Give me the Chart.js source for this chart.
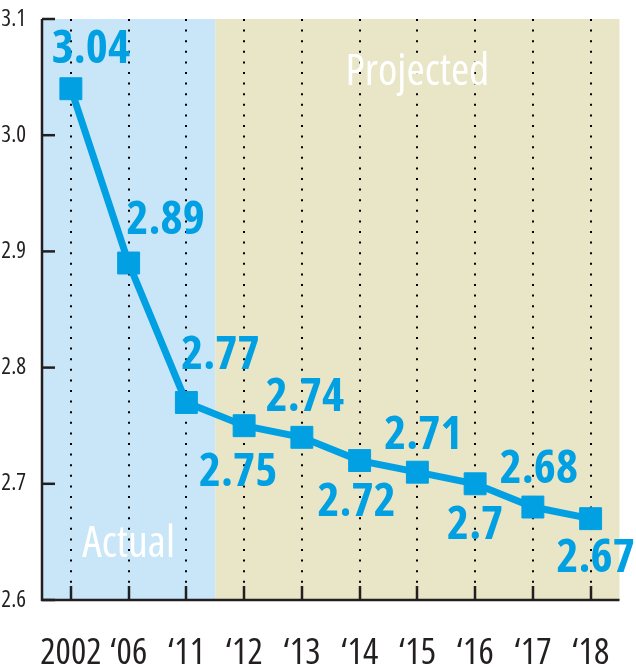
<!DOCTYPE html>
<html><head><meta charset="utf-8">
<script src="https://cdn.jsdelivr.net/npm/chart.js@4/dist/chart.umd.min.js"></script>
<style>html,body{margin:0;padding:0;background:#fff}#wrap{width:636px;height:667px}</style>
</head><body><div id="wrap"><canvas id="c" width="636" height="667"></canvas></div>
<script>
// ---- data ----
const categories = ['2002', '\u201806', '\u201811', '\u201812', '\u201813', '\u201814', '\u201815', '\u201816', '\u201817', '\u201818'];
const values = [3.04, 2.89, 2.77, 2.75, 2.74, 2.72, 2.71, 2.70, 2.68, 2.67];
const valueLabels = ['3.04', '2.89', '2.77', '2.75', '2.74', '2.72', '2.71', '2.7', '2.68', '2.67'];
const yTicks = [2.6, 2.7, 2.8, 2.9, 3.0, 3.1];
const actualCount = 3;
const periodLabels = ['Actual', 'Projected'];

// ---- styles ----
const BLUE = '#00a0e3';
const BG_ACTUAL = '#c8e6f8';
const BG_PROJ = '#e8e6c6';
const INK = '#231f20';
const FAMILY = "'Open Sans', 'DejaVu Sans Condensed', sans-serif";
// text centre offsets from each point (px)
const labelOffsets = [[20,-42],[37,-46],[34,-50],[-6,44],[3,-43],[-3,39],[6,-40],[0,38],[6,-41],[5,37]];

const decor = {
  id: 'decor',
  beforeDatasetsDraw(chart) {
    const {ctx, chartArea: a, scales: {x, y}} = chart;
    ctx.save();
    const split = (x.getPixelForValue(actualCount - 1) + x.getPixelForValue(actualCount)) / 2;
    ctx.fillStyle = BG_ACTUAL;
    ctx.fillRect(a.left, a.top, split - a.left, a.bottom - a.top);
    ctx.fillStyle = BG_PROJ;
    ctx.fillRect(split, a.top, a.right - split, a.bottom - a.top);
    // dotted verticals
    ctx.strokeStyle = '#000';
    ctx.lineWidth = 2;
    ctx.setLineDash([2, 8.6]);
    for (let i = 0; i < categories.length; i++) {
      const px = Math.round(x.getPixelForValue(i));
      ctx.beginPath();
      ctx.moveTo(px, a.top);
      ctx.lineTo(px, a.bottom);
      ctx.stroke();
    }
    ctx.setLineDash([]);
    // period labels
    ctx.fillStyle = '#ffffff';
    ctx.font = 'condensed 44px ' + FAMILY;
    ctx.textAlign = 'center';
    ctx.textBaseline = 'alphabetic';
    ctx.fillText(periodLabels[0], (a.left + split) / 2, a.bottom - 43);
    ctx.fillText(periodLabels[1], (split + a.right) / 2, a.top + 66);
    // axes
    ctx.strokeStyle = INK;
    ctx.lineWidth = 2.5;
    ctx.beginPath();
    ctx.moveTo(a.left, a.top);
    ctx.lineTo(a.left, a.bottom);
    ctx.lineTo(a.right, a.bottom);
    ctx.stroke();
    // inward ticks
    for (const v of yTicks) {
      const py = y.getPixelForValue(v);
      ctx.beginPath();
      ctx.moveTo(a.left, py);
      ctx.lineTo(a.left + 13, py);
      ctx.stroke();
    }
    for (let i = 0; i < categories.length; i++) {
      const px = Math.round(x.getPixelForValue(i));
      ctx.beginPath();
      ctx.moveTo(px, a.bottom);
      ctx.lineTo(px, a.bottom - 14);
      ctx.stroke();
    }
    ctx.restore();
  },
  afterDatasetsDraw(chart) {
    const {ctx} = chart;
    const meta = chart.getDatasetMeta(0);
    const size = 47;
    ctx.save();
    ctx.fillStyle = BLUE;
    ctx.font = 'bold condensed ' + size + 'px ' + FAMILY;
    ctx.textAlign = 'center';
    ctx.textBaseline = 'alphabetic';
    meta.data.forEach((pt, i) => {
      const [dx, dy] = labelOffsets[i];
      ctx.fillText(valueLabels[i], pt.x + dx, pt.y + dy + size * 0.357);
    });
    ctx.restore();
  }
};

new Chart(document.getElementById('c'), {
  type: 'line',
  data: {
    labels: categories,
    datasets: [{
      data: values,
      borderColor: BLUE,
      backgroundColor: BLUE,
      borderWidth: 7,
      tension: 0,
      pointStyle: 'rect',
      pointRadius: 15.5,
      pointBorderWidth: 1,
      pointBorderColor: BLUE,
      pointBackgroundColor: BLUE,
      fill: false
    }]
  },
  options: {
    responsive: false,
    animation: false,
    devicePixelRatio: 1,
    layout: {padding: {top: 19, right: 15, left: 0, bottom: 0}},
    plugins: {legend: {display: false}, tooltip: {enabled: false}},
    scales: {
      x: {
        offset: true,
        grid: {display: false},
        border: {display: false},
        ticks: {font: {family: FAMILY, size: 36, weight: 'condensed'}, color: INK, padding: 24, maxRotation: 0, autoSkip: false},
        afterFit(s) { s.height = 67; s.paddingLeft = 0; s.paddingRight = 0; }
      },
      y: {
        min: 2.6, max: 3.1,
        grid: {display: false},
        border: {display: false},
        afterBuildTicks(s) { s.ticks = yTicks.map(v => ({value: v})); },
        ticks: {font: {family: FAMILY, size: 23, weight: 'condensed'}, color: INK, padding: 8, callback: v => Number(v).toFixed(1)},
        afterFit(s) { s.width = 42; s.paddingTop = 0; s.paddingBottom = 0; }
      }
    }
  },
  plugins: [decor]
});
</script>
</body></html>
